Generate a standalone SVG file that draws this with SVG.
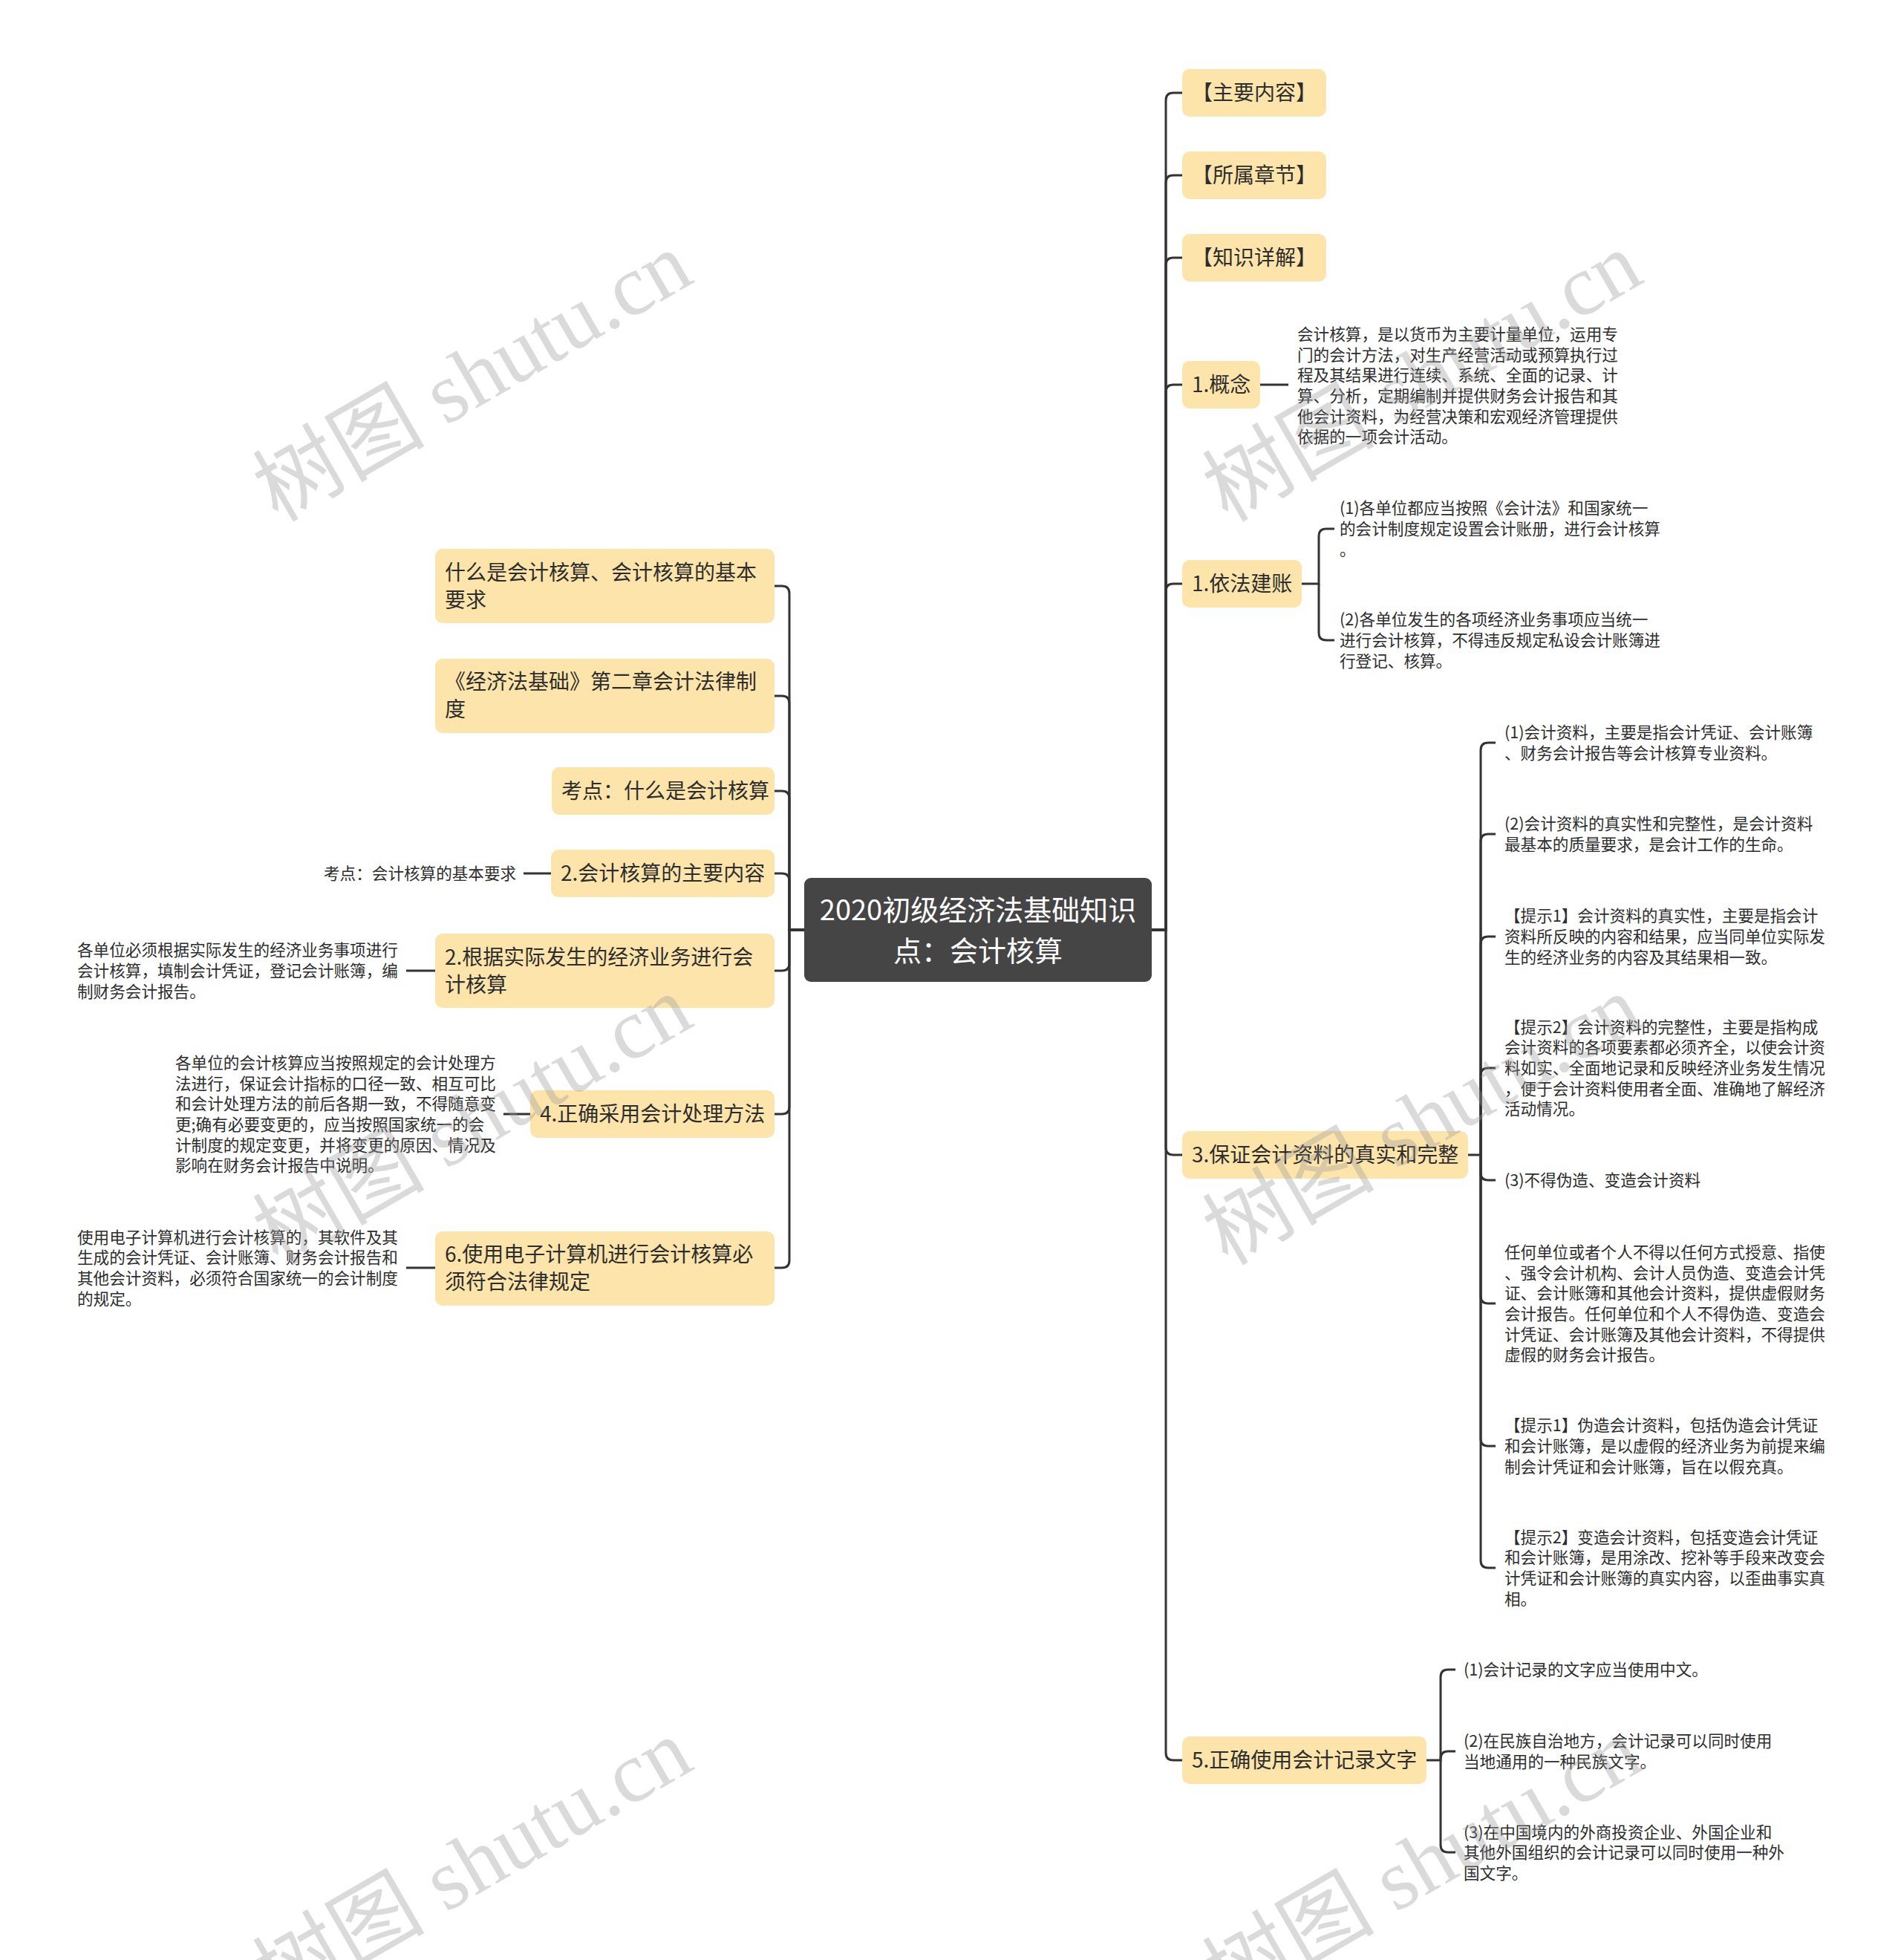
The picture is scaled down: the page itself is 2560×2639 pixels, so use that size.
<svg xmlns="http://www.w3.org/2000/svg" width="2560" height="2639" viewBox="0 0 2560 2639">
<style>
.box{fill:#fde4ab}
.root{fill:#454545}
.t28{font-family:"Noto Sans CJK SC","Noto Sans",sans-serif;font-size:28px;fill:#2d2d2d}
.t22{font-family:"Noto Sans CJK SC","Noto Sans",sans-serif;font-size:21.6px;fill:#2d2d2d}
.t38{font-family:"Noto Sans CJK SC","Noto Sans",sans-serif;font-size:38px;fill:#ffffff;text-anchor:middle}
.edge{fill:none;stroke:#333333;stroke-width:3}
.wm{font-family:"Liberation Serif","Noto Sans CJK SC",serif;font-size:116px;fill:#999999;fill-opacity:0.36}
</style>
<rect width="2560" height="2639" fill="#ffffff"/>

<g id="connectors">
<path class="edge" d="M1551,1252 H1570 V135 Q1570,125 1580,125 H1592"/>
<path class="edge" d="M1551,1252 H1570 V246 Q1570,236 1580,236 H1592"/>
<path class="edge" d="M1551,1252 H1570 V357 Q1570,347 1580,347 H1592"/>
<path class="edge" d="M1551,1252 H1570 V528 Q1570,518 1580,518 H1592"/>
<path class="edge" d="M1551,1252 H1570 V796 Q1570,786 1580,786 H1592"/>
<path class="edge" d="M1551,1252 H1570 V1545 Q1570,1555 1580,1555 H1592"/>
<path class="edge" d="M1551,1252 H1570 V2360 Q1570,2370 1580,2370 H1592"/>
<path class="edge" d="M1083,1252 H1063 V799 Q1063,789 1053,789 H1043"/>
<path class="edge" d="M1083,1252 H1063 V947 Q1063,937 1053,937 H1043"/>
<path class="edge" d="M1083,1252 H1063 V1075 Q1063,1065 1053,1065 H1043"/>
<path class="edge" d="M1083,1252 H1063 V1186 Q1063,1176 1053,1176 H1043"/>
<path class="edge" d="M1083,1252 H1063 V1297 Q1063,1307 1053,1307 H1043"/>
<path class="edge" d="M1083,1252 H1063 V1490 Q1063,1500 1053,1500 H1043"/>
<path class="edge" d="M1083,1252 H1063 V1697 Q1063,1707 1053,1707 H1043"/>
<path class="edge" d="M1697,518 H1735"/>
<path class="edge" d="M1753,786 H1776 V722 Q1776,712 1786,712 H1797"/>
<path class="edge" d="M1776,786 V852 Q1776,862 1786,862 H1797"/>
<path class="edge" d="M1977,1555 H1994 V1010 Q1994,1000 2004,1000 H2014"/>
<path class="edge" d="M1994,1555 V1133 Q1994,1123 2004,1123 H2014"/>
<path class="edge" d="M1994,1555 V1271 Q1994,1261 2004,1261 H2014"/>
<path class="edge" d="M1994,1555 V1448 Q1994,1438 2004,1438 H2014"/>
<path class="edge" d="M1994,1555 V1579 Q1994,1589 2004,1589 H2014"/>
<path class="edge" d="M1994,1555 V1745 Q1994,1755 2004,1755 H2014"/>
<path class="edge" d="M1994,1555 V1937 Q1994,1947 2004,1947 H2014"/>
<path class="edge" d="M1994,1555 V2101 Q1994,2111 2004,2111 H2014"/>
<path class="edge" d="M1921,2370 H1940 V2258 Q1940,2248 1950,2248 H1960"/>
<path class="edge" d="M1940,2370 V2368 Q1940,2358 1950,2358 H1960"/>
<path class="edge" d="M1940,2370 V2484 Q1940,2494 1950,2494 H1960"/>
<path class="edge" d="M742,1176 H705"/>
<path class="edge" d="M586,1307 H547"/>
<path class="edge" d="M714,1500 H678"/>
<path class="edge" d="M586,1707 H547"/>
</g>

<g id="root">
<rect class="root" x="1083" y="1182" width="468" height="140" rx="9"/>
<text class="t38" x="1317" y="1239">2020初级经济法基础知识</text>
<text class="t38" x="1317" y="1294">点：会计核算</text>
</g>

<g id="n-main">
<rect class="box" x="1592" y="93" width="194" height="64" rx="10"/>
<text class="t28" x="1605" y="135">【主要内容】</text>
</g>
<g id="n-chapter">
<rect class="box" x="1592" y="204" width="194" height="64" rx="10"/>
<text class="t28" x="1605" y="246">【所属章节】</text>
</g>
<g id="n-detail">
<rect class="box" x="1592" y="315" width="194" height="64" rx="10"/>
<text class="t28" x="1605" y="357">【知识详解】</text>
</g>
<g id="n-concept">
<rect class="box" x="1592" y="486" width="105" height="64" rx="10"/>
<text class="t28" x="1605" y="528">1.概念</text>
</g>
<g id="n-concept-text">
<text class="t22" x="1747">
<tspan x="1747" y="458">会计核算，是以货币为主要计量单位，运用专</tspan>
<tspan x="1747" y="486">门的会计方法，对生产经营活动或预算执行过</tspan>
<tspan x="1747" y="513">程及其结果进行连续、系统、全面的记录、计</tspan>
<tspan x="1747" y="541">算、分析，定期编制并提供财务会计报告和其</tspan>
<tspan x="1747" y="569">他会计资料，为经营决策和宏观经济管理提供</tspan>
<tspan x="1747" y="596">依据的一项会计活动。</tspan>
</text>
</g>
<g id="n-law">
<rect class="box" x="1592" y="754" width="161" height="64" rx="10"/>
<text class="t28" x="1605" y="796">1.依法建账</text>
</g>
<g id="n-law-1">
<text class="t22">
<tspan x="1804" y="692">(1)各单位都应当按照《会计法》和国家统一</tspan>
<tspan x="1804" y="720">的会计制度规定设置会计账册，进行会计核算</tspan>
<tspan x="1804" y="748">。</tspan>
</text>
</g>
<g id="n-law-2">
<text class="t22">
<tspan x="1804" y="842">(2)各单位发生的各项经济业务事项应当统一</tspan>
<tspan x="1804" y="870">进行会计核算，不得违反规定私设会计账簿进</tspan>
<tspan x="1804" y="898">行登记、核算。</tspan>
</text>
</g>

<g id="n-true">
<rect class="box" x="1592" y="1523" width="385" height="64" rx="10"/>
<text class="t28" x="1605" y="1565">3.保证会计资料的真实和完整</text>
</g>
<g id="n-true-1">
<text class="t22">
<tspan x="2026" y="994">(1)会计资料，主要是指会计凭证、会计账簿</tspan>
<tspan x="2026" y="1022">、财务会计报告等会计核算专业资料。</tspan>
</text>
</g>
<g id="n-true-2">
<text class="t22">
<tspan x="2026" y="1117">(2)会计资料的真实性和完整性，是会计资料</tspan>
<tspan x="2026" y="1145">最基本的质量要求，是会计工作的生命。</tspan>
</text>
</g>
<g id="n-true-3">
<text class="t22">
<tspan x="2026" y="1241">【提示1】会计资料的真实性，主要是指会计</tspan>
<tspan x="2026" y="1269">资料所反映的内容和结果，应当同单位实际发</tspan>
<tspan x="2026" y="1297">生的经济业务的内容及其结果相一致。</tspan>
</text>
</g>
<g id="n-true-4">
<text class="t22">
<tspan x="2026" y="1391">【提示2】会计资料的完整性，主要是指构成</tspan>
<tspan x="2026" y="1418">会计资料的各项要素都必须齐全，以使会计资</tspan>
<tspan x="2026" y="1446">料如实、全面地记录和反映经济业务发生情况</tspan>
<tspan x="2026" y="1474">，便于会计资料使用者全面、准确地了解经济</tspan>
<tspan x="2026" y="1501">活动情况。</tspan>
</text>
</g>
<g id="n-true-5">
<text class="t22" x="2026" y="1597">(3)不得伪造、变造会计资料</text>
</g>
<g id="n-true-6">
<text class="t22">
<tspan x="2026" y="1694">任何单位或者个人不得以任何方式授意、指使</tspan>
<tspan x="2026" y="1722">、强令会计机构、会计人员伪造、变造会计凭</tspan>
<tspan x="2026" y="1749">证、会计账簿和其他会计资料，提供虚假财务</tspan>
<tspan x="2026" y="1777">会计报告。任何单位和个人不得伪造、变造会</tspan>
<tspan x="2026" y="1805">计凭证、会计账簿及其他会计资料，不得提供</tspan>
<tspan x="2026" y="1832">虚假的财务会计报告。</tspan>
</text>
</g>
<g id="n-true-7">
<text class="t22">
<tspan x="2026" y="1927">【提示1】伪造会计资料，包括伪造会计凭证</tspan>
<tspan x="2026" y="1955">和会计账簿，是以虚假的经济业务为前提来编</tspan>
<tspan x="2026" y="1983">制会计凭证和会计账簿，旨在以假充真。</tspan>
</text>
</g>
<g id="n-true-8">
<text class="t22">
<tspan x="2026" y="2078">【提示2】变造会计资料，包括变造会计凭证</tspan>
<tspan x="2026" y="2105">和会计账簿，是用涂改、挖补等手段来改变会</tspan>
<tspan x="2026" y="2133">计凭证和会计账簿的真实内容，以歪曲事实真</tspan>
<tspan x="2026" y="2161">相。</tspan>
</text>
</g>

<g id="n-lang">
<rect class="box" x="1592" y="2338" width="329" height="64" rx="10"/>
<text class="t28" x="1605" y="2380">5.正确使用会计记录文字</text>
</g>
<g id="n-lang-1">
<text class="t22" x="1971" y="2256">(1)会计记录的文字应当使用中文。</text>
</g>
<g id="n-lang-2">
<text class="t22">
<tspan x="1971" y="2352">(2)在民族自治地方，会计记录可以同时使用</tspan>
<tspan x="1971" y="2380">当地通用的一种民族文字。</tspan>
</text>
</g>
<g id="n-lang-3">
<text class="t22">
<tspan x="1971" y="2475">(3)在中国境内的外商投资企业、外国企业和</tspan>
<tspan x="1971" y="2502">其他外国组织的会计记录可以同时使用一种外</tspan>
<tspan x="1971" y="2530">国文字。</tspan>
</text>
</g>

<g id="n-what">
<rect class="box" x="586" y="739" width="457" height="100" rx="10"/>
<text class="t28">
<tspan x="599" y="781">什么是会计核算、会计核算的基本</tspan>
<tspan x="599" y="818">要求</tspan>
</text>
</g>
<g id="n-book">
<rect class="box" x="586" y="887" width="457" height="100" rx="10"/>
<text class="t28">
<tspan x="599" y="928">《经济法基础》第二章会计法律制</tspan>
<tspan x="599" y="965">度</tspan>
</text>
</g>
<g id="n-point">
<rect class="box" x="743" y="1033" width="300" height="64" rx="10"/>
<text class="t28" x="756" y="1075">考点：什么是会计核算</text>
</g>
<g id="n-content">
<rect class="box" x="742" y="1144" width="301" height="64" rx="10"/>
<text class="t28" x="755" y="1186">2.会计核算的主要内容</text>
</g>
<g id="n-content-1">
<text class="t22" x="436" y="1184">考点：会计核算的基本要求</text>
</g>
<g id="n-actual">
<rect class="box" x="586" y="1257" width="457" height="100" rx="10"/>
<text class="t28">
<tspan x="599" y="1299">2.根据实际发生的经济业务进行会</tspan>
<tspan x="599" y="1336">计核算</tspan>
</text>
</g>
<g id="n-actual-1">
<text class="t22">
<tspan x="104" y="1287">各单位必须根据实际发生的经济业务事项进行</tspan>
<tspan x="104" y="1315">会计核算，填制会计凭证，登记会计账簿，编</tspan>
<tspan x="104" y="1343">制财务会计报告。</tspan>
</text>
</g>
<g id="n-method">
<rect class="box" x="714" y="1468" width="329" height="64" rx="10"/>
<text class="t28" x="727" y="1510">4.正确采用会计处理方法</text>
</g>
<g id="n-method-1">
<text class="t22">
<tspan x="236" y="1439">各单位的会计核算应当按照规定的会计处理方</tspan>
<tspan x="236" y="1467">法进行，保证会计指标的口径一致、相互可比</tspan>
<tspan x="236" y="1494">和会计处理方法的前后各期一致，不得随意变</tspan>
<tspan x="236" y="1522">更;确有必要变更的，应当按照国家统一的会</tspan>
<tspan x="236" y="1550">计制度的规定变更，并将变更的原因、情况及</tspan>
<tspan x="236" y="1577">影响在财务会计报告中说明。</tspan>
</text>
</g>
<g id="n-computer">
<rect class="box" x="586" y="1658" width="457" height="100" rx="10"/>
<text class="t28">
<tspan x="599" y="1699">6.使用电子计算机进行会计核算必</tspan>
<tspan x="599" y="1736">须符合法律规定</tspan>
</text>
</g>
<g id="n-computer-1">
<text class="t22">
<tspan x="104" y="1674">使用电子计算机进行会计核算的，其软件及其</tspan>
<tspan x="104" y="1701">生成的会计凭证、会计账簿、财务会计报告和</tspan>
<tspan x="104" y="1729">其他会计资料，必须符合国家统一的会计制度</tspan>
<tspan x="104" y="1757">的规定。</tspan>
</text>
</g>

<g id="watermarks">
<text class="wm" x="374" y="704" transform="rotate(-30 374 704)">树图 shutu.cn</text>
<text class="wm" x="1653" y="704" transform="rotate(-30 1653 704)">树图 shutu.cn</text>
<text class="wm" x="374" y="1705" transform="rotate(-30 374 1705)">树图 shutu.cn</text>
<text class="wm" x="1653" y="1705" transform="rotate(-30 1653 1705)">树图 shutu.cn</text>
<text class="wm" x="374" y="2706" transform="rotate(-30 374 2706)">树图 shutu.cn</text>
<text class="wm" x="1653" y="2706" transform="rotate(-30 1653 2706)">树图 shutu.cn</text>
</g>
</svg>
